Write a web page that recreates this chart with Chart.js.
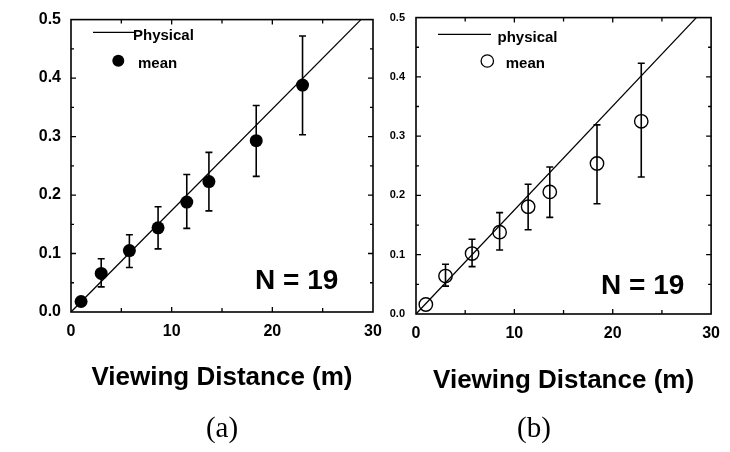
<!DOCTYPE html>
<html><head><meta charset="utf-8">
<script src="https://cdn.jsdelivr.net/npm/chart.js@4/dist/chart.umd.min.js"></script>
<style>
html,body{margin:0;padding:0;background:#fff;width:730px;height:452px;overflow:hidden;}
canvas{position:absolute;top:0;}
#ca{left:0;}
#cb{left:380px;}
</style></head><body>
<canvas id="ca" width="395" height="452"></canvas>
<canvas id="cb" width="350" height="452"></canvas>
<script>
// ---- data ----
const xTickValues = [0, 10, 20, 30];
const yTickValues = [0, 0.1, 0.2, 0.3, 0.4, 0.5];
const xTitle = 'Viewing Distance (m)';

const distA = [1.0, 3.0, 5.8, 8.65, 11.5, 13.7, 18.4, 23.0];
const meanA = [0.018, 0.066, 0.105, 0.144, 0.188, 0.223, 0.293, 0.388];
const lowA  = [null, 0.043, 0.076, 0.108, 0.143, 0.173, 0.232, 0.303];
const highA = [null, 0.091, 0.132, 0.180, 0.235, 0.273, 0.353, 0.472];
const physXA = [0, 28.8];
const physYA = [0, 0.5];

const distB = [1.0, 3.0, 5.7, 8.5, 11.4, 13.6, 18.4, 22.9];
const meanB = [0.016, 0.064, 0.102, 0.138, 0.181, 0.206, 0.254, 0.325];
const lowB  = [null, 0.047, 0.080, 0.108, 0.142, 0.163, 0.186, 0.231];
const highB = [null, 0.084, 0.126, 0.171, 0.219, 0.248, 0.319, 0.423];
const physXB = [0, 28.5];
const physYB = [0, 0.5];

const FAM = '"Liberation Sans", Arial, Helvetica, sans-serif';
const SERIF = '"Liberation Serif", "Times New Roman", serif';

function pts(xs, ys){ return xs.map((x,i)=>({x, y: ys[i]})); }
function segs(xs, lo, hi){
  const d = [];
  xs.forEach((x,i)=>{ if(lo[i]==null) return; d.push({x, y:lo[i]}, {x, y:hi[i]}, {x, y:null}); });
  return d;
}
function caps(xs, lo, hi){
  const d = [];
  xs.forEach((x,i)=>{ if(lo[i]==null) return; d.push({x, y:lo[i]}, {x, y:hi[i]}); });
  return d;
}

const framePlugin = {
  id: 'frame',
  afterDraw(chart, args, o){
    const {ctx, chartArea: a, scales} = chart;
    const xs = scales.x, ys = scales.y;
    ctx.save();
    ctx.strokeStyle = '#000';
    ctx.lineWidth = 1.6;
    ctx.strokeRect(a.left, a.top, a.right - a.left, a.bottom - a.top);
    ctx.lineWidth = 1.3;
    ctx.beginPath();
    for (let v = 5; v < 30; v += 5) {
      const p = xs.getPixelForValue(v);
      const L = (v % 10 === 0) ? 5 : 4;
      ctx.moveTo(p, a.bottom); ctx.lineTo(p, a.bottom - L);
      ctx.moveTo(p, a.top); ctx.lineTo(p, a.top + L);
    }
    for (let k = 1; k < 10; k++) {
      const v = k * 0.05;
      const p = ys.getPixelForValue(v);
      const L = (k % 2 === 0) ? 5 : 3;
      ctx.moveTo(a.left, p); ctx.lineTo(a.left + L, p);
      ctx.moveTo(a.right, p); ctx.lineTo(a.right - L, p);
    }
    ctx.stroke();

    // legend
    const lg = o.legend;
    ctx.lineWidth = 1.2;
    ctx.beginPath();
    ctx.moveTo(lg.lineX1, lg.lineY); ctx.lineTo(lg.lineX2, lg.lineY);
    ctx.stroke();
    ctx.beginPath();
    ctx.arc(lg.markX, lg.markY, lg.markR, 0, Math.PI * 2);
    ctx.fillStyle = lg.markFill;
    ctx.fill();
    if (lg.markFill !== '#000') { ctx.lineWidth = 1.3; ctx.stroke(); }
    ctx.fillStyle = '#000';
    ctx.textBaseline = 'alphabetic';
    ctx.textAlign = 'left';
    ctx.font = 'bold 15px ' + FAM;
    ctx.fillText(lg.lineText, lg.lineTextX, lg.lineTextBase);
    ctx.fillText(lg.markText, lg.markTextX, lg.markTextBase);

    // N = 19
    ctx.font = 'bold 28px ' + FAM;
    ctx.fillText(o.nText, o.nX, o.nBase);

    // panel letter
    ctx.font = '29px ' + SERIF;
    ctx.textAlign = 'center';
    ctx.fillText(o.letter, o.letterX, o.letterBase);
    ctx.restore();
  }
};

function makeChart(id, d, L){
  return new Chart(document.getElementById(id), {
    type: 'scatter',
    data: {
      datasets: [
        { type:'line', label: d.lineLabel, data: pts(d.physX, d.physY),
          borderColor:'#000', borderWidth:1.3, pointRadius:0, fill:false, tension:0 },
        { type:'line', label:'error', data: segs(d.dist, d.low, d.high),
          borderColor:'#000', borderWidth:1.6, pointRadius:0, spanGaps:false, fill:false, tension:0 },
        { label:'caps', data: caps(d.dist, d.low, d.high), pointStyle:'line',
          pointRadius:3.5, pointBorderWidth:1.6, pointBorderColor:'#000', pointBackgroundColor:'#000' },
        { label:'mean', data: pts(d.dist, d.mean), pointStyle:'circle',
          pointRadius: L.markR, pointBackgroundColor: d.fill, pointBorderColor:'#000',
          pointBorderWidth: d.fill === '#000' ? 0 : 1.4 }
      ]
    },
    options: {
      responsive:false, animation:false, events: [],
      layout:{ padding:{ left:0, right:L.padRight, top:L.top, bottom:0 } },
      plugins:{
        legend:{display:false}, tooltip:{enabled:false}, title:{display:false},
        frame: L.frame
      },
      scales:{
        x:{ type:'linear', min:0, max:30, offset:false,
            afterBuildTicks: s => { s.ticks = xTickValues.map(v => ({value:v})); },
            ticks:{ padding:10, color:'#000', maxRotation:0, autoSkip:false,
                    font:{ family:FAM, size:16, weight:'bold' } },
            grid:{ display:false, drawTicks:false }, border:{ display:false },
            title:{ display:true, text:xTitle, color:'#000',
                    font:{ family:FAM, size:26, weight:'bold' },
                    padding:{ top:0, bottom:L.titlePad } },
            afterFit: s => { s.height = 452 - L.bottom; } },
        y:{ type:'linear', min:0, max:0.5,
            afterBuildTicks: s => { s.ticks = yTickValues.map(v => ({value:v})); },
            ticks:{ padding:L.yPad, color:'#000', autoSkip:false,
                    callback: v => Number(v).toFixed(1),
                    font:{ family:FAM, size:L.yFont, weight:'bold' } },
            grid:{ display:false, drawTicks:false }, border:{ display:false },
            afterFit: s => { s.width = L.yWidth; } }
      }
    },
    plugins:[framePlugin]
  });
}

makeChart('ca',
  { dist:distA, mean:meanA, low:lowA, high:highA, physX:physXA, physY:physYA, fill:'#000', lineLabel:'Physical' },
  { padRight: 395 - 373, top: 11, bottom: 312, titlePad: 59, yPad: 10, yFont: 16, yWidth: 71, markR: 6.5,
    frame: {
      legend: { lineX1:93, lineX2:134, lineY:32.3, lineText:'Physical', lineTextX:133, lineTextBase:39.5,
                markX:118.3, markY:60.7, markR:6, markFill:'#000', markText:'mean', markTextX:138, markTextBase:67.5 },
      nText:'N = 19', nX:255, nBase:289, letter:'(a)', letterX:222, letterBase:437 } });

makeChart('cb',
  { dist:distB, mean:meanB, low:lowB, high:highB, physX:physXB, physY:physYB, fill:'#fff', lineLabel:'physical' },
  { padRight: 350 - 337, top: 13, bottom: 314, titlePad: 56, yPad: 11, yFont: 11, yWidth: 36, markR: 6.7,
    frame: {
      legend: { lineX1:58, lineX2:111, lineY:34.3, lineText:'physical', lineTextX:117.5, lineTextBase:42,
                markX:107.3, markY:61, markR:6.2, markFill:'#fff', markText:'mean', markTextX:125.7, markTextBase:67.5 },
      nText:'N = 19', nX:221, nBase:294, letter:'(b)', letterX:154, letterBase:437 } });
</script>
</body></html>
